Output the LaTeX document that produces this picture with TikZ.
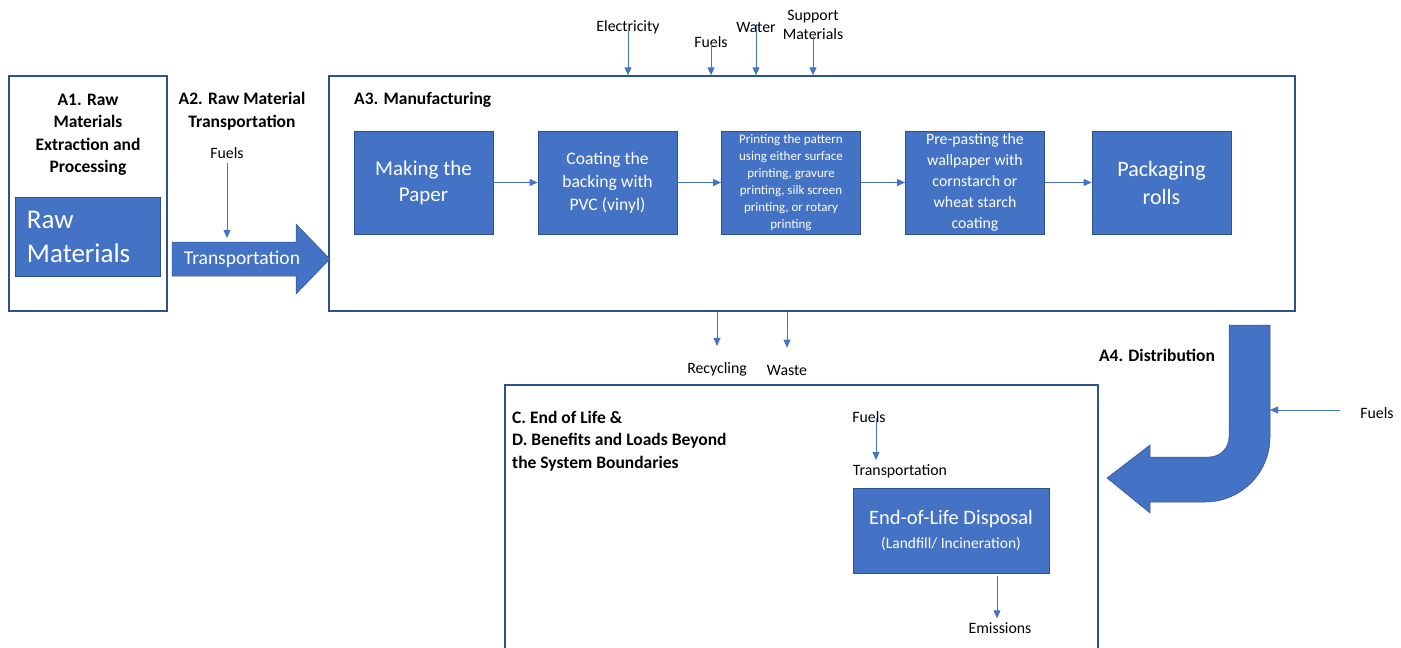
\documentclass[tikz,border=0pt]{standalone}
\usepackage{fontspec}
\setmainfont{Carlito}
\usetikzlibrary{positioning,arrows.meta}
\definecolor{boxblue}{HTML}{4472C4}
\definecolor{edgeblue}{HTML}{2F528F}
\newcommand{\fsz}[2]{\fontsize{#1}{#2}\selectfont}

\begin{document}
\begin{tikzpicture}[x=1pt, y=-1pt,
    every node/.style={inner sep=0pt},
    stage/.style={rectangle, draw=edgeblue, line width=1.5pt},
    proc/.style={rectangle, draw=edgeblue, line width=0.8pt, fill=boxblue, text=white, align=center,
        minimum width=139pt, minimum height=103pt},
    title/.style={font=\bfseries\fsz{17.5}{22.5}},
    lbl/.style={font=\fsz{15.8}{19}, align=center},
    flow/.style={draw=boxblue, line width=1pt, -{Triangle[width=7pt,length=8pt]}}
]
\useasboundingbox (0,0) rectangle (1401,648);

% stage boundaries
\node[stage, minimum width=158pt, minimum height=235pt] (rawstage) at (88,193.5) {};
\node[stage, minimum width=966pt, minimum height=235pt] (mfg) at (812,193.5) {};
\draw[stage] (505,660) -- (505,385) -- (1098,385) -- (1098,660);

% A1
\node[title, align=center] (a1) at (88,135) {A1. Raw\\Materials\\Extraction and\\Processing};
\node[rectangle, fill=boxblue, draw=edgeblue, line width=0.5pt, text=white, align=left,
    text width=121pt, inner xsep=12pt, minimum height=79pt, font=\fsz{27}{34}] (raw) at (87.5,236.5) {Raw\\Materials};

% A2
\node[title, align=center] (a2) at (242,111) {A2. Raw Material\\Transportation};
\node[lbl] (fuelsa2) at (227,153) {Fuels};
\draw[fill=boxblue, draw=edgeblue, line width=0.5pt]
    (172,242) -- (296,242) -- (296,224) -- (330,259) -- (296,294) -- (296,276) -- (172,276) -- cycle;
\node[text=white, font=\fsz{19.5}{22}] (transp) at (242,259) {Transportation};
\coordinate (transptop) at (227,238);
\draw[flow] (fuelsa2.south) ++(0,4) -- (transptop);

% A3
\node[title, anchor=west] (a3) at (354,100) {A3. Manufacturing};
\node[proc, font=\fsz{21}{26}] (paper) at (423.5,182.5) {Making the\\Paper};
\node[proc, font=\fsz{17.6}{23}] (coat) at (607.5,182.5) {Coating the\\backing with\\PVC (vinyl)};
\node[proc, font=\fsz{13}{17}] (print) at (791,182.5) {Printing the pattern\\using either surface\\printing, gravure\\printing, silk screen\\printing, or rotary\\printing};
\node[proc, font=\fsz{15.8}{21}] (paste) at (975,182.5) {Pre-pasting the\\wallpaper with\\cornstarch or\\wheat starch\\coating};
\node[proc, font=\fsz{22}{28}] (pack) at (1161.5,182.5) {Packaging\\rolls};
\draw[flow] (paper) -- (coat);
\draw[flow] (coat) -- (print);
\draw[flow] (print) -- (paste);
\draw[flow] (paste) -- (pack);

% inputs to manufacturing
\node[lbl] (elec) at (628,27) {Electricity};
\node[lbl] (fuelsa3) at (711,42) {Fuels};
\node[lbl] (water) at (756,27) {Water};
\node[lbl] (support) at (813,25) {Support\\Materials};
\draw[flow] ([yshift=4pt]elec.south) -- (elec |- mfg.north);
\draw[flow] ([yshift=4pt]fuelsa3.south) -- (fuelsa3 |- mfg.north);
\draw[flow] ([yshift=8pt]water.south) -- (water |- mfg.north);
\draw[flow] ([yshift=4pt]support.south) -- (support |- mfg.north);

% outputs of manufacturing
\node[lbl] (recyc) at (717,369) {Recycling};
\node[lbl] (waste) at (787,370) {Waste};
\draw[flow, shorten >=16pt] (recyc |- mfg.south) -- (recyc.north);
\draw[flow, shorten >=17pt] (waste |- mfg.south) -- (waste.north);

% A4
\node[title] (a4) at (1157,355) {A4. Distribution};
\draw[fill=boxblue, draw=edgeblue, line width=0.5pt]
    (1229,325) -- (1270,325) -- (1270,437) .. controls (1270,473) and (1241,502) .. (1205,502)
    -- (1150,502) -- (1150,513) -- (1107,478) -- (1150,445) -- (1150,457) -- (1209,457)
    .. controls (1220,457) and (1229,448) .. (1229,437) -- cycle;
\node[lbl] (fuelsa4) at (1377,413) {Fuels};
\coordinate (distin) at (1270,410);
\draw[flow] (1340,410) -- (distin);

% C and D
\node[title, anchor=north west, align=left] (cd) at (512,411)
    {C. End of Life \&\\D. Benefits and Loads Beyond\\the System Boundaries};
\node[lbl] (fuelsc) at (869,417) {Fuels};
\node[lbl] (transc) at (900,471) {Transportation};
\draw[flow] ([yshift=5pt]fuelsc.south -| 876,0) -- (876,460);
\node[proc, minimum width=196pt, minimum height=85pt, font=\fsz{20.5}{24}] (eol) at (951,530.5)
    {End-of-Life Disposal\\{\fsz{15.5}{17}(Landfill/ Incineration)}};
\node[lbl] (emis) at (1000,628) {Emissions};
\draw[flow, shorten >=4pt] ([yshift=-3pt]eol.south -| 997,0) -- (emis.north -| 997,0) ;
\end{tikzpicture}
\end{document}
